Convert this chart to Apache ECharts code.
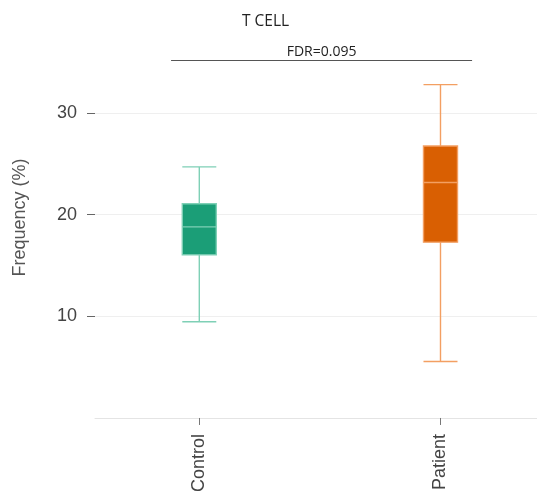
<!DOCTYPE html>
<html>
<head>
<meta charset="utf-8">
<script src="https://cdn.jsdelivr.net/npm/echarts@6/dist/echarts.min.js"></script>
<style>
  html, body { margin: 0; padding: 0; background: #ffffff; }
  #chart { width: 537px; height: 495px; }
</style>
</head>
<body>
<div id="chart"></div>
<script>
// Groups and their five-number summaries: [min, Q1, median, Q3, max]
const groups = ['Control', 'Patient'];
const controlStats = [9.46, 16.05, 18.8, 21.08, 24.7];
const patientStats = [5.55, 17.3, 23.17, 26.76, 32.8];
const fillColors = ['#1b9e77', '#d95f02'];
const lineColors = ['#7fd0b6', '#f39f62'];

// Significance bracket between the two groups
const bracketX = [-0.117, 1.131];
const bracketY = 35.17;
const bracketLabel = 'FDR=0.095';

const yTicks = [10, 20, 30];

const stats = [controlStats, patientStats];
const groupPos = groups.map((g, i) => i);

const chart = echarts.init(document.getElementById('chart'), null, { renderer: 'canvas' });

// One boxplot series; each group is a data item placed at its own x position
const boxData = stats.map((s, i) => ({
  value: [groupPos[i]].concat(s),
  itemStyle: {
    color: fillColors[i],
    borderColor: lineColors[i],
    borderWidth: 1.4
  }
}));

chart.setOption({
  animation: false,
  title: {
    text: 'T CELL',
    left: 237,
    top: 9,
    textStyle: {
      fontFamily: 'Open Sans',
      fontWeight: 'normal',
      fontSize: 15.5,
      color: '#222222'
    }
  },
  grid: { left: 95, right: 0, top: 17, bottom: 75 },
  xAxis: {
    type: 'value',
    min: -0.4324,
    max: 1.4001,
    splitLine: { show: false },
    axisLine: { show: true, onZero: false, lineStyle: { color: '#e4e4e4', width: 1 } },
    axisTick: {
      show: true,
      customValues: groupPos,
      length: 7,
      lineStyle: { color: '#777777' }
    },
    axisLabel: {
      customValues: groupPos,
      formatter: v => groups[Math.round(v)],
      rotate: 90,
      margin: 16,
      fontFamily: 'Liberation Sans',
      fontSize: 18,
      color: '#444444'
    }
  },
  yAxis: {
    type: 'value',
    min: 0,
    max: 39.45,
    name: 'Frequency (%)',
    nameLocation: 'middle',
    nameGap: 66,
    nameTextStyle: {
      fontFamily: 'Liberation Sans',
      fontSize: 18,
      color: '#555555'
    },
    axisLine: { show: false, onZero: false },
    axisTick: {
      show: true,
      customValues: yTicks,
      length: 8,
      inside: false,
      lineStyle: { color: '#666666' }
    },
    axisLabel: {
      customValues: yTicks,
      margin: 18,
      fontFamily: 'Liberation Sans',
      fontSize: 18,
      color: '#444444'
    },
    splitLine: {
      show: true,
      lineStyle: { color: '#efefef', width: 1 }
    }
  },
  series: [{
    type: 'boxplot',
    name: 'T CELL',
    boxWidth: [34, 34],
    encode: { x: 0, y: [1, 2, 3, 4, 5] },
    data: boxData,
    emphasis: { disabled: true },
    markLine: {
      silent: true,
      symbol: 'none',
      lineStyle: { color: '#555555', width: 1, type: 'solid' },
      label: {
        show: true,
        position: 'middle',
        formatter: bracketLabel,
        distance: 1,
        color: '#222222',
        fontFamily: 'Open Sans',
        fontSize: 14
      },
      data: [[
        { coord: [bracketX[0], bracketY] },
        { coord: [bracketX[1], bracketY] }
      ]]
    }
  }]
});
</script>
</body>
</html>
